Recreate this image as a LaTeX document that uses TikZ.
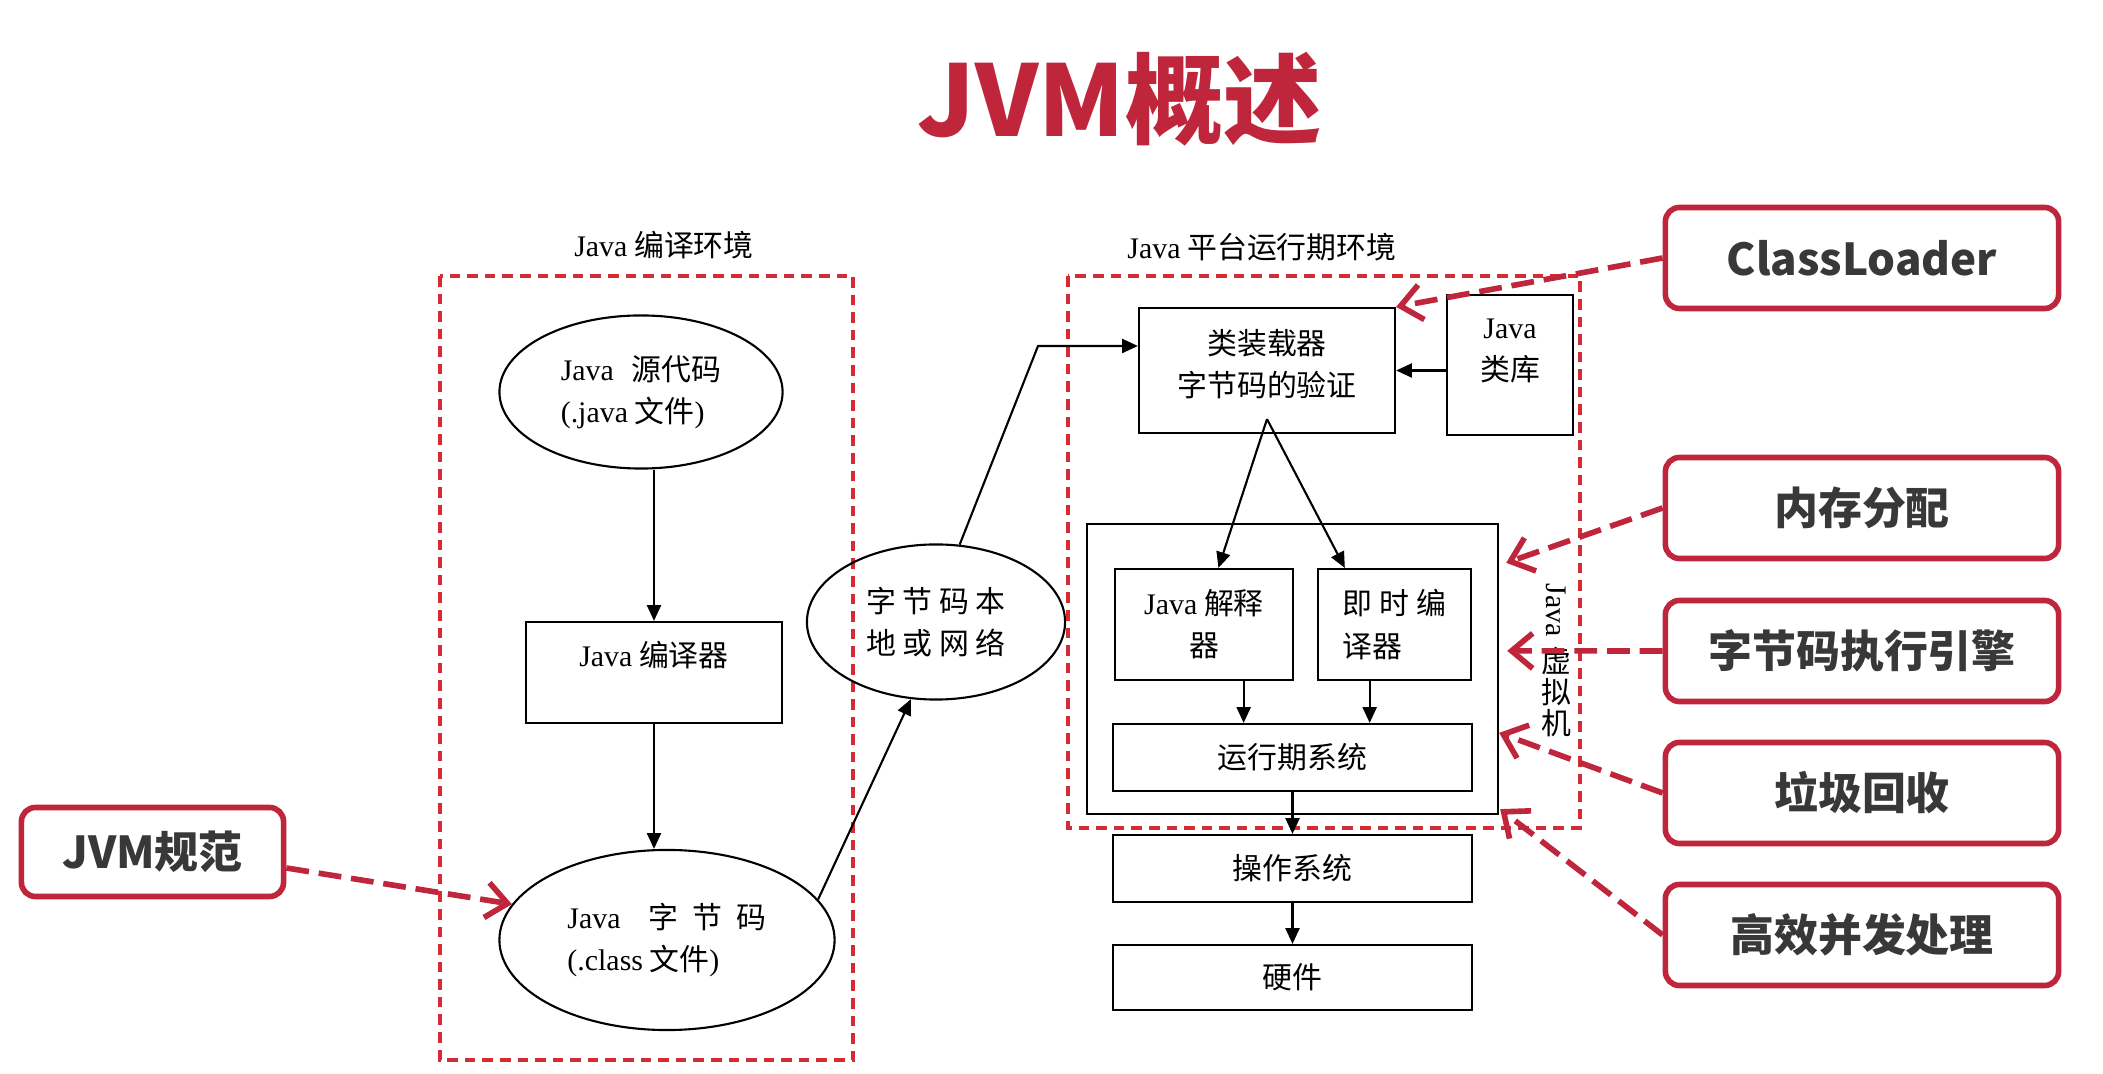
\documentclass[tikz,border=0pt]{standalone}
\usepackage{fontspec}
\usepackage{tikz}
\setmainfont{Noto Sans CJK SC}
\newfontfamily\latfont{Liberation Serif}
\usetikzlibrary{arrows.meta}
\usetikzlibrary{calc}
\usetikzlibrary{shapes.geometric}
\usetikzlibrary{shadows}
\newcommand{\J}{{\latfont Java}}
\definecolor{mred}{rgb}{0.75, 0.15, 0.23}
\definecolor{mpink}{rgb}{0.84, 0.17, 0.2}
\definecolor{mgray}{rgb}{0.22, 0.22, 0.22}
\tikzset{txt/.style = {font = \fontsize{8.5}{12}\selectfont}}
\tikzset{blk/.style = {draw, line width = 0.6pt, inner sep = 0, txt, align = center}}
\tikzset{oval/.style = {blk, ellipse}}
\tikzset{env/.style = {draw = mpink, line width = 0.9pt, dash pattern = on 3pt off 2pt}}
\tikzset{flow/.style = {line width = 0.6pt, -{Triangle[length = 4.5pt, width = 4pt]}}}
\tikzset{feat/.style = {draw = mred, line width = 1.6pt, rounded corners = 4pt, fill = white,
    text = mgray, font = \fontsize{12.5}{15}\selectfont\bfseries,
    minimum width = 3.93cm, minimum height = 1.01cm,
    drop shadow = {opacity = 0.2, shadow xshift = 0.6pt, shadow yshift = -0.6pt}}}
\tikzset{hint/.style = {mred, line width = 1.6pt, dash pattern = on 6.5pt off 2.8pt,
    -{Straight Barb[length = 6pt, width = 10pt]}}}

\begin{document}
\begin{tikzpicture}[x = 0.01cm, y = -0.01cm]
    \useasboundingbox (0, 0) rectangle (2103, 1074);
    \node [font = \fontsize{28}{34}\selectfont\bfseries, text = mred] (ttl) at (1120, 99) {JVM概述};

    % compile side
    \draw [env] (440, 276) rectangle (853, 1060);
    \node [txt] (lblc) at (664, 245) {\J\ 编译环境};
    \node [oval, minimum width = 2.83cm, minimum height = 1.53cm, align = left] (src) at (641, 392)
      {\J\hspace{5pt}源代码\\{\latfont (.java} 文件{\latfont )}};
    \node [blk, minimum width = 2.56cm, minimum height = 1.01cm] (comp) at (654, 672.5) {};
    \node [txt] (compt) at (654, 655) {\J\ 编译器};
    \node [oval, minimum width = 3.35cm, minimum height = 1.80cm, align = left] (bc) at (667, 940)
      {\J\hspace{8pt}字\hspace{4pt}节\hspace{4pt}码\\{\latfont (.class} 文件{\latfont )}};
    \node [oval, minimum width = 2.58cm, minimum height = 1.55cm] (net) at (936, 622) {字 节 码 本\\地 或 网 络};

    % runtime side
    \draw [env] (1068, 276) rectangle (1580, 828);
    \node [txt] (lblr) at (1262, 247) {\J\ 平台运行期环境};
    \node [blk, minimum width = 2.56cm, minimum height = 1.25cm] (cl) at (1267, 370.5) {};
    \node [txt, align = center] (clt) at (1267, 364) {类装载器\\字节码的验证};
    \node [blk, minimum width = 1.26cm, minimum height = 1.40cm] (lib) at (1510, 365) {};
    \node [txt, align = center] (libt) at (1510, 351) {\J\\类库};
    \node [blk, minimum width = 4.11cm, minimum height = 2.90cm] (jvm) at (1292.5, 669) {};
    \node [blk, minimum width = 1.78cm, minimum height = 1.11cm] (interp) at (1204, 624.5) {\J\ 解释\\器};
    \node [blk, minimum width = 1.53cm, minimum height = 1.11cm, align = left] (jit) at (1394.5, 624.5) {即 时 编\\译器};
    \node [blk, minimum width = 3.58cm, minimum height = 0.67cm] (rts) at (1292.5, 757.5) {运行期系统};
    \node [blk, minimum width = 3.58cm, minimum height = 0.67cm] (os) at (1292.5, 868.5) {操作系统};
    \node [blk, minimum width = 3.58cm, minimum height = 0.65cm] (hw) at (1292.5, 977.5) {硬件};
    \node [txt, rotate = -90] (vm1) at (1556, 610) {\J};
    \node [align = center, font = \fontsize{8.5}{7.8}\selectfont] (vm2) at (1556, 692) {虚\\拟\\机};

    \draw [flow] (comp.north |- src.south) -- (comp.north);
    \draw [flow] (comp.south) -- (comp.south |- bc.north);
    \draw [flow] (bc.15) -- (net.252);
    \coordinate (bend) at (1038, 346);
    \draw [flow] (net.73) -- (bend) -- (bend -| cl.west);
    \draw [flow] (lib.west |- cl.east) -- (cl.east);
    \coordinate (fork) at ($(cl.south) + (0, -15)$);
    \draw [flow] (fork) -- ($(interp.north west)!0.58!(interp.north east)$);
    \draw [flow] (fork) -- ($(jit.north west)!0.18!(jit.north east)$);
    \coordinate (ip) at ($(interp.south west)!0.72!(interp.south east)$);
    \coordinate (jp) at ($(jit.south west)!0.34!(jit.south east)$);
    \draw [flow] (ip) -- (ip |- rts.north);
    \draw [flow] (jp) -- (jp |- rts.north);
    \draw [flow] (rts.south) -- (os.north);
    \draw [flow] (os.south) -- (hw.north);

    % callouts
    \node [feat, minimum width = 2.62cm, minimum height = 0.89cm] (spec) at (152.5, 852) {JVM规范};
    \foreach \n/\y/\t in {cld/258/ClassLoader, mem/508/内存分配, exe/651/字节码执行引擎, gc/793/垃圾回收, conc/935/高效并发处理} {
      \node [feat] (\n) at (1862, \y) {\t};
    }
    \draw [hint] ($(spec.east) + (0, 16)$) -- (bc.167);
    \coordinate (hmem) at ($(jvm.north east) + (7, 40)$);
    \coordinate (hexe) at ($(jvm.north east) + (8, 128)$);
    \coordinate (hgc) at ($(jvm.north east) + (0, 210)$);
    \coordinate (hconc) at ($(jvm.south east) + (1, -6)$);
    \foreach \s/\t in {cld/cl.north east, mem/hmem, exe/hexe, gc/hgc, conc/hconc} {
      \draw [hint] (\s.west) -- (\t);
    }
\end{tikzpicture}
\end{document}
